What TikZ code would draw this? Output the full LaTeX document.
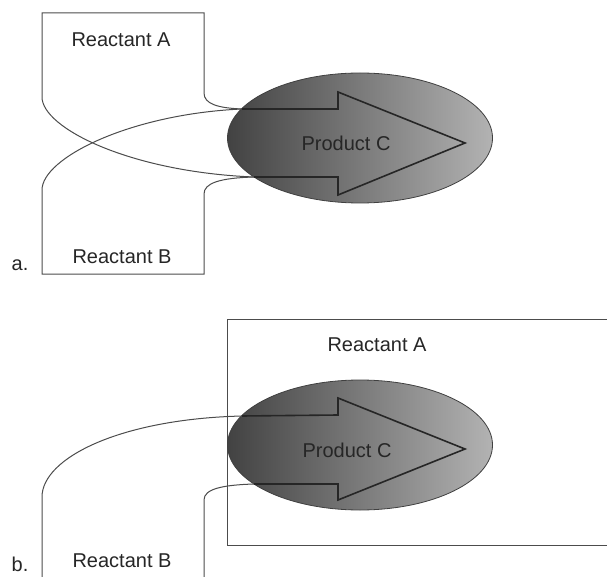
\documentclass[tikz,border=0pt]{standalone}
\usepackage{fontspec}
\setmainfont{Liberation Sans}
\usetikzlibrary{shapes.geometric, positioning}

\begin{document}
\begin{tikzpicture}[x=1pt, y=-1pt]
    % Styles
    \tikzstyle{wall} = [draw=black!70, line width=1pt]
    \tikzstyle{flow} = [draw=black!85, line width=1.6pt, line join=miter]
    \tikzstyle{product} = [ellipse, draw=black!75, line width=0.8pt, left color=black!74, right color=black!30, minimum width=265pt, minimum height=130pt, inner sep=0pt]
    \tikzstyle{txt} = [text=black!85, inner sep=0pt, font=\fontsize{20}{24}\selectfont]

    \useasboundingbox (0,0) rectangle (607,577);

    % a. -- both reactants enter the product from the left
    \node [product] (prodA) at (360,138) {};
    \coordinate (aTop) at (242,109);
    \coordinate (aBot) at (254,177);

    \draw [wall] (aBot) .. controls (130,172) and (42,128) .. (42,97) -- (42,13) -- (204,13) -- (204,93) .. controls (204,104) and (218,108) .. (aTop);
    \draw [wall] (aTop) .. controls (130,114) and (42,158) .. (42,190) -- (42,274) -- (204,274) -- (204,194) .. controls (204,183) and (220,178) .. (aBot);
    \draw [flow] (aTop) -- (338,109) -- (338,92) -- (465,143) -- (338,195) -- (338,177) -- (aBot);

    \node [txt] (aReactA) at (121,40) {Reactant A};
    \node [txt] (aReactB) at (122,257) {Reactant B};
    \node [txt] (aProd) at (346,143) {Product C};
    \node [txt] (aTag) at (20,265) {a.};

    % b. -- product sits inside reactant A, reactant B comes in from below
    \draw [wall] (607,319) -- (227,319) -- (227,545) -- (607,545);
    \node [product] (prodB) at (360,445) {};
    \coordinate (bTop) at (242,416);
    \coordinate (bBot) at (254,484);

    \draw [wall] (42,577) -- (42,497) .. controls (42,458) and (120,419) .. (bTop);
    \draw [wall] (204,577) -- (204,500) .. controls (204,489) and (222,485) .. (bBot);
    \draw [flow] (bTop) -- (338,415) -- (338,398) -- (465,449) -- (338,500) -- (338,484) -- (bBot);

    \node [txt] (bReactA) at (377,345) {Reactant A};
    \node [txt] (bReactB) at (122,561) {Reactant B};
    \node [txt] (bProd) at (347,450) {Product C};
    \node [txt] (bTag) at (20,564) {b.};

\end{tikzpicture}
\end{document}
